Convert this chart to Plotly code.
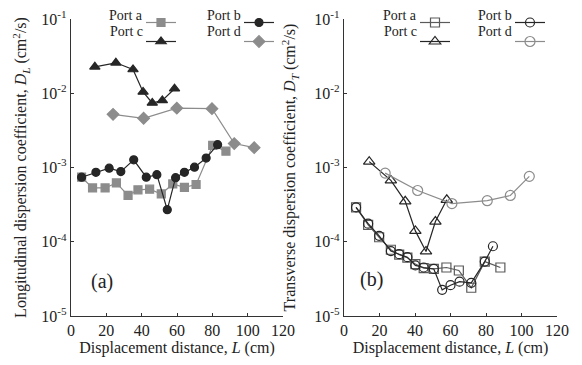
import plotly.graph_objects as go

# ---- Panel (a): longitudinal dispersion coefficient D_L (cm^2/s)
a_L_x = [6.0, 12.2, 19.3, 25.7, 32.3, 37.9, 44.5, 51.1, 57.6, 64.2, 70.8, 80.2, 87.7]
a_L_y = [0.00074, 0.00053, 0.00053, 0.00062, 0.00042, 0.00050, 0.00051, 0.00044, 0.00060, 0.00054, 0.00059, 0.00198, 0.00166]
b_L_x = [6.0, 14.1, 21.6, 28.2, 35.5, 42.6, 48.6, 54.5, 59.2, 64.2, 69.9, 76.5, 83.0]
b_L_y = [0.00074, 0.00086, 0.00098, 0.00088, 0.00127, 0.00074, 0.00080, 0.00027, 0.00073, 0.00086, 0.00101, 0.00134, 0.00203]
c_L_x = [13.5, 25.4, 35.1, 40.8, 46.0, 51.7, 58.6]
c_L_y = [0.0227, 0.0257, 0.0209, 0.0104, 0.0074, 0.0080, 0.0115]
d_L_x = [23.8, 41.1, 59.9, 79.8, 92.4, 103.7]
d_L_y = [0.0052, 0.0046, 0.0063, 0.0062, 0.0021, 0.00185]

# ---- Panel (b): transverse dispersion coefficient D_T (cm^2/s)
a_T_x = [6.8, 13.6, 19.8, 26.4, 31.1, 35.7, 40.2, 44.9, 50.6, 57.7, 64.7, 71.7, 79.3, 88.1]
a_T_y = [2.9e-4, 1.69e-4, 1.15e-4, 7.8e-5, 6.7e-5, 6.1e-5, 5.0e-5, 4.4e-5, 4.3e-5, 4.5e-5, 4.1e-5, 2.4e-5, 5.4e-5, 4.5e-5]
b_T_x = [6.8, 13.6, 19.8, 26.4, 31.1, 35.7, 40.2, 44.9, 50.6, 55.3, 60.0, 65.1, 71.7, 79.3, 83.9]
b_T_y = [2.9e-4, 1.75e-4, 1.2e-4, 7.5e-5, 6.8e-5, 6.2e-5, 4.8e-5, 4.5e-5, 4.3e-5, 2.25e-5, 2.6e-5, 2.9e-5, 2.8e-5, 5.4e-5, 8.7e-5]
c_T_x = [14.2, 26.4, 34.5, 40.2, 46.2, 51.5, 57.9]
c_T_y = [1.2e-3, 6.7e-4, 3.5e-4, 1.4e-4, 7.4e-5, 1.87e-4, 3.67e-4]
d_T_x = [23.2, 41.5, 60.8, 80.7, 93.7, 104.4]
d_T_y = [8.4e-4, 4.9e-4, 3.27e-4, 3.57e-4, 4.2e-4, 7.6e-4]

series_names = ["Port a", "Port b", "Port c", "Port d"]
x_ticks = [0, 20, 40, 60, 80, 100, 120]
y_tickvals = [1e-5, 1e-4, 1e-3, 1e-2, 1e-1]
y_ticktext = ["10<sup>-5</sup>", "10<sup>-4</sup>", "10<sup>-3</sup>", "10<sup>-2</sup>", "10<sup>-1</sup>"]

FONT = "Liberation Serif"
DARK = "#262626"
GRAY = "#8c8c8c"
MID = "#5a5a5a"
TXT = "#222"

fig = go.Figure()

def add(x, y, name, xa, ya, symbol, color, legend, size=8, lw=1.2):
    fig.add_trace(go.Scatter(
        x=x, y=y, name=" ", legendgroup=name + xa, mode="lines+markers",
        xaxis=xa, yaxis=ya, hovertext=name,
        line=dict(color=color, width=lw),
        marker=dict(symbol=symbol, size=size, color=color,
                    line=dict(color=color, width=1.2)),
        legend=legend,
    ))

# left panel
add(a_L_x, a_L_y, series_names[0], "x", "y", "square", GRAY, "legend")
add(c_L_x, c_L_y, series_names[2], "x", "y", "triangle-up", DARK, "legend", size=9)
add(b_L_x, b_L_y, series_names[1], "x", "y", "circle", DARK, "legend2")
add(d_L_x, d_L_y, series_names[3], "x", "y", "diamond", GRAY, "legend2", size=9)
# right panel
add(a_T_x, a_T_y, series_names[0], "x2", "y2", "square-open", MID, "legend3", size=9)
add(c_T_x, c_T_y, series_names[2], "x2", "y2", "triangle-up-open", DARK, "legend3", size=10)
add(b_T_x, b_T_y, series_names[1], "x2", "y2", "circle-open", DARK, "legend4", size=9)
add(d_T_x, d_T_y, series_names[3], "x2", "y2", "circle-open", GRAY, "legend4", size=10)

# the page body has an 8px default margin: work in window pixels and shift
OFF = 8
W, H = 582 - OFF, 365 - OFF
T, B = 19 - OFF, 365 - 316
PH = H - T - B
axis_font = dict(family=FONT, size=16, color=TXT)
title_font = dict(family=FONT, size=16, color=TXT)

def fx(p):  # window px -> paper x
    return (p - OFF) / W

def fy(p):  # window px -> paper y
    return (H - B - (p - OFF)) / PH

def xaxis(domain):
    return dict(domain=domain, range=[0, 120], tickvals=x_ticks, showline=True,
                linecolor="#333", linewidth=1.2, ticks="inside", ticklen=3,
                tickcolor="#333", showgrid=False, zeroline=False,
                tickfont=axis_font, mirror=False, automargin=False,
                ticklabeloverflow="allow",
                title=dict(text="Displacement distance, <i>L</i> (cm)", font=title_font, standoff=0))

def yaxis(anchor, title, standoff):
    return dict(type="log", range=[-5, -1], tickvals=y_tickvals, ticktext=y_ticktext,
                showline=True, linecolor="#333", linewidth=1.2, ticks="inside",
                ticklen=3, tickcolor="#333", showgrid=False, zeroline=False,
                tickfont=axis_font, anchor=anchor, automargin=False,
                ticklabeloverflow="allow",
                title=dict(text=title, font=title_font, standoff=standoff))

leg_common = dict(orientation="v", yref="container", yanchor="top", xanchor="left",
                  bgcolor="rgba(0,0,0,0)", font=dict(family=FONT, size=11, color=TXT),
                  tracegroupgap=0, itemwidth=30, borderwidth=0)

# legend text labels placed left of the legend symbols (as in the reference)
ROW1, ROW2 = 16, 31.5
legend_labels = [
    (series_names[0], 145, ROW1), (series_names[2], 145, ROW2),
    (series_names[1], 243, ROW1), (series_names[3], 243, ROW2),
    (series_names[0], 419, ROW1), (series_names[2], 419, ROW2),
    (series_names[1], 514, ROW1), (series_names[3], 514, ROW2),
]
annotations = [
    dict(text=t, xref="paper", yref="paper", x=fx(xp), y=fy(yp), xanchor="right",
         yanchor="middle", showarrow=False, font=dict(family=FONT, size=14, color=TXT))
    for t, xp, yp in legend_labels
]
annotations += [
    dict(text="(a)", xref="x", yref="y domain", x=17.5, y=0.07, showarrow=False,
         font=dict(family=FONT, size=20, color=TXT)),
    dict(text="(b)", xref="x2", yref="y2 domain", x=15.5, y=0.077, showarrow=False,
         font=dict(family=FONT, size=20, color=TXT)),
]

LEG_TOP = 3.5
fig.update_layout(
    width=W, height=H,
    margin=dict(l=0, r=0, t=T, b=B, autoexpand=False),
    paper_bgcolor="white", plot_bgcolor="white",
    font=dict(family=FONT, color=TXT),
    xaxis=xaxis([fx(71), fx(283)]),
    yaxis=yaxis("x", "Longitudinal dispersion coefficient, <i>D</i><sub><i>L</i></sub> (cm<sup>2</sup>/s)", 10),
    xaxis2=dict(xaxis([fx(344), fx(557)]), anchor="y2"),
    yaxis2=yaxis("x2", "Transverse dispersion coefficient, <i>D</i><sub><i>T</i></sub> (cm<sup>2</sup>/s)", 14),
    legend=dict(leg_common, x=fx(141), y=1 - (LEG_TOP - OFF) / H),
    legend2=dict(leg_common, x=fx(239), y=1 - (LEG_TOP - OFF) / H),
    legend3=dict(leg_common, x=fx(415), y=1 - (LEG_TOP - OFF) / H),
    legend4=dict(leg_common, x=fx(510), y=1 - (LEG_TOP - OFF) / H),
    annotations=annotations,
)

fig.write_html("out.html")
